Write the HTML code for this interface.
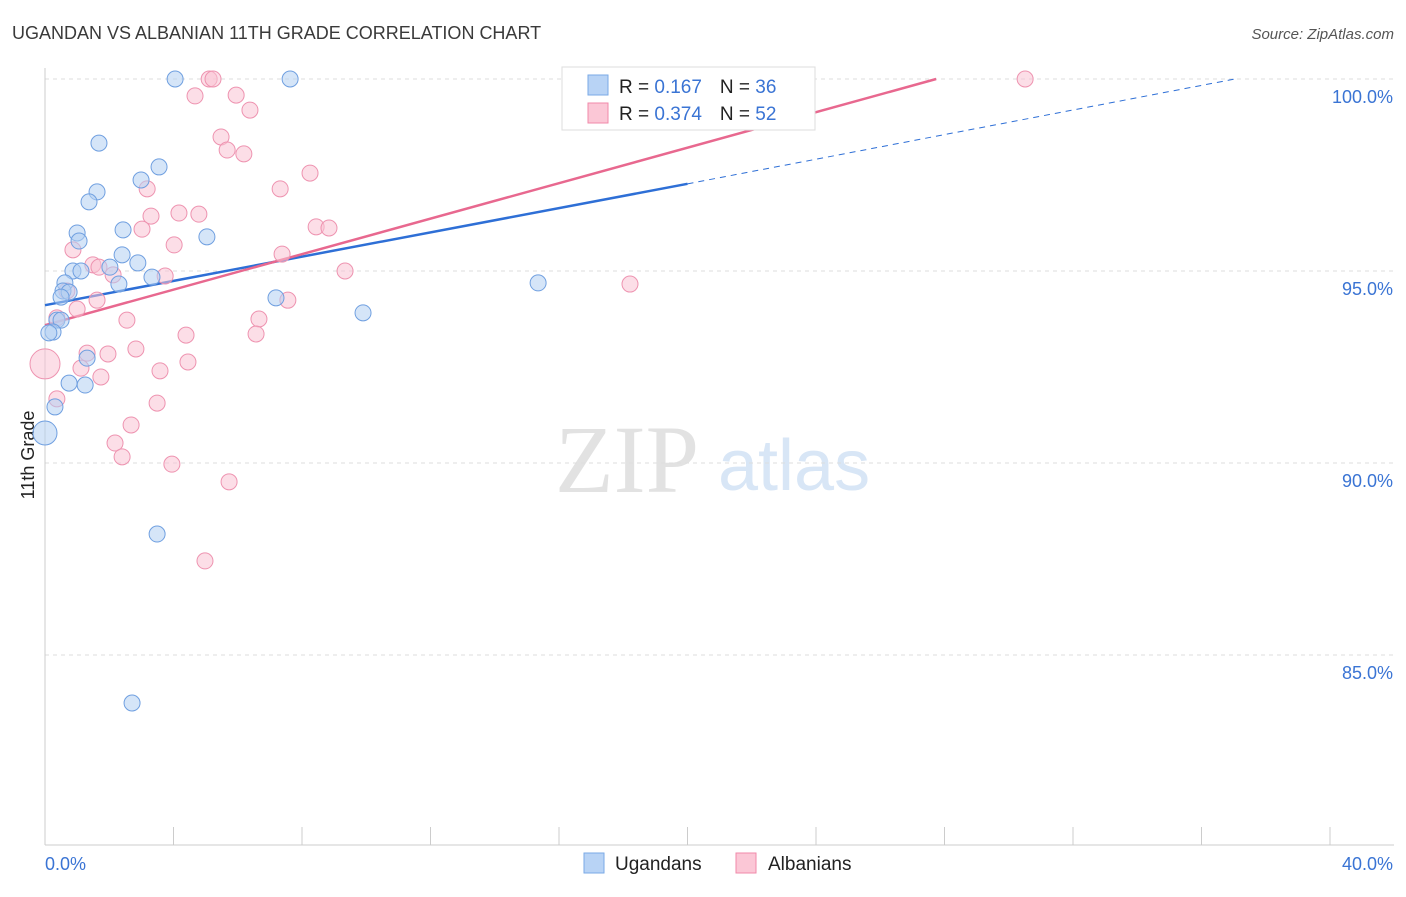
<!DOCTYPE html>
<html><head><meta charset="utf-8"><style>
body{margin:0;background:#fff;font-family:"Liberation Sans",sans-serif;}
svg text{font-family:"Liberation Sans",sans-serif;}
</style></head><body>
<svg id="chart" width="1406" height="892">
<text x="12" y="39" font-size="18" fill="#3a3a3a">UGANDAN VS ALBANIAN 11TH GRADE CORRELATION CHART</text>
<text x="1394" y="39" font-size="15" fill="#555" text-anchor="end" font-style="italic">Source: ZipAtlas.com</text>
<text x="555" y="492" font-size="96" fill="#e2e2e2" style="font-family:'Liberation Serif',serif">ZIP</text>
<text x="718" y="490" font-size="72" fill="#d8e6f6">atlas</text>
<text transform="translate(34,455) rotate(-90)" font-size="18" fill="#222" text-anchor="middle">11th Grade</text>
<g id="grid"></g><g id="axes"></g><g id="lines"></g><g id="pts"></g>
<g>
<rect x="562" y="67" width="253" height="63" fill="#fff" stroke="#ddd"/>
<rect x="588" y="75" width="20" height="20" fill="#b8d3f5" stroke="#7aa9e6"/>
<rect x="588" y="103" width="20" height="20" fill="#fbc7d6" stroke="#f08aaa"/>
<text x="619" y="93" font-size="19" fill="#222">R = <tspan fill="#3a74d4">0.167</tspan><tspan dx="18">N = </tspan><tspan fill="#3a74d4">36</tspan></text>
<text x="619" y="120" font-size="19" fill="#222">R = <tspan fill="#3a74d4">0.374</tspan><tspan dx="18">N = </tspan><tspan fill="#3a74d4">52</tspan></text>
</g>
<g>
<rect x="584" y="853" width="20" height="20" fill="#b8d3f5" stroke="#7aa9e6"/>
<text x="615" y="870" font-size="19" fill="#222">Ugandans</text>
<rect x="736" y="853" width="20" height="20" fill="#fbc7d6" stroke="#f08aaa"/>
<text x="768" y="870" font-size="19" fill="#222">Albanians</text>
</g>
</svg>
<script>
const yTicks=[100,95,90,85];
const blueX=[4.05,7.63,1.68,3.55,1.62,2.99,1.37,1.00,2.43,1.06,5.04,2.40,2.89,0.87,1.12,2.02,3.33,2.30,0.62,0.56,0.75,0.50,7.19,15.35,9.90,0.37,0.50,0.25,0.12,1.31,0.75,1.25,0.31,0,3.49,2.71];
const blueY=[100,100,98.33,97.71,97.06,97.37,96.80,95.99,96.07,95.78,95.89,95.42,95.21,95.0,95.0,95.10,94.84,94.66,94.69,94.48,94.45,94.32,94.30,94.69,93.91,93.72,93.72,93.41,93.39,92.73,92.08,92.03,91.46,90.78,88.15,83.75];
const pinkX=[5.11,5.23,30.51,4.67,5.95,6.38,5.48,5.67,6.19,3.18,7.32,8.25,4.17,4.79,3.30,3.02,8.44,8.84,4.02,0.87,7.38,1.49,1.68,2.12,3.74,9.34,18.21,0.68,7.56,1.00,0.37,2.55,6.66,6.57,4.39,1.31,1.96,2.83,1.12,4.45,3.58,1.74,0,0.37,3.49,2.68,2.18,2.40,3.95,5.73,4.98,1.62];
const pinkY=[100,100,100,99.56,99.58,99.19,98.49,98.15,98.05,97.14,97.14,97.55,96.51,96.48,96.43,96.09,96.15,96.12,95.68,95.55,95.44,95.16,95.10,94.90,94.87,95.0,94.66,94.48,94.24,94.01,93.78,93.72,93.75,93.36,93.33,92.86,92.84,92.97,92.47,92.63,92.40,92.24,92.58,91.67,91.56,90.99,90.52,90.16,89.97,89.51,87.45,94.24];
const blueLine=[0,94.11,20,97.27,37.04,100];
const pinkLine=[0,93.59,27.74,100];
const NS='http://www.w3.org/2000/svg';
const X=v=>45+v*32.125, Y=v=>79+(100-v)*38.4;
function mk(p,t,a){const e=document.createElementNS(NS,t);for(const k in a)e.setAttribute(k,a[k]);p.appendChild(e);return e;}
const grid=document.getElementById('grid'),axes=document.getElementById('axes'),lines=document.getElementById('lines'),pts=document.getElementById('pts');
yTicks.forEach(v=>{
 const l=mk(grid,'line',{x1:45,x2:1394,y1:Y(v),y2:Y(v),stroke:'#ddd','stroke-dasharray':'4 4'});
 
 
 const t=mk(grid,'text',{x:1393,y:Y(v)+24,'font-size':18,fill:'#3a74d4','text-anchor':'end'});t.textContent=v.toFixed(1)+'%';
 
 
});
mk(axes,'line',{x1:45,x2:45,y1:68,y2:845,stroke:'#ccc'});
mk(axes,'line',{x1:45,x2:1394,y1:845,y2:845,stroke:'#ccc'});
for(let i=0;i<=40;i+=4){mk(axes,'line',{x1:X(i),x2:X(i),y1:827,y2:845,stroke:'#ccc'});}
const t0=mk(axes,'text',{x:45,y:870,'font-size':18,fill:'#3a74d4'});t0.textContent='0.0%';


const t1=mk(axes,'text',{x:1393,y:870,'font-size':18,fill:'#3a74d4','text-anchor':'end'});t1.textContent='40.0%';


function dot(x,y,fill,stroke,r){const c=mk(pts,'circle',{cx:X(x),cy:Y(y),r:r,fill:fill,stroke:stroke,'stroke-width':1,'fill-opacity':0.55});return c;}
pinkX.forEach((x,i)=>{const c=dot(x,pinkY[i],'#f9c3d3','#ee93b0',x===0?15:8);
 
 });
blueX.forEach((x,i)=>{const c=dot(x,blueY[i],'#b3cff3','#6f9fe0',x===0?12:8);
 
 });
const bl=mk(lines,'line',{x1:X(blueLine[0]),y1:Y(blueLine[1]),x2:X(blueLine[2]),y2:Y(blueLine[3]),stroke:'#2e6fd6','stroke-width':2.5});


const bd=mk(lines,'line',{x1:X(blueLine[2]),y1:Y(blueLine[3]),x2:X(blueLine[4]),y2:Y(blueLine[5]),stroke:'#2e6fd6','stroke-width':1,'stroke-dasharray':'6 5'});


const pl=mk(lines,'line',{x1:X(pinkLine[0]),y1:Y(pinkLine[1]),x2:X(pinkLine[2]),y2:Y(pinkLine[3]),stroke:'#e8688f','stroke-width':2.5});


</script>
</body></html>
